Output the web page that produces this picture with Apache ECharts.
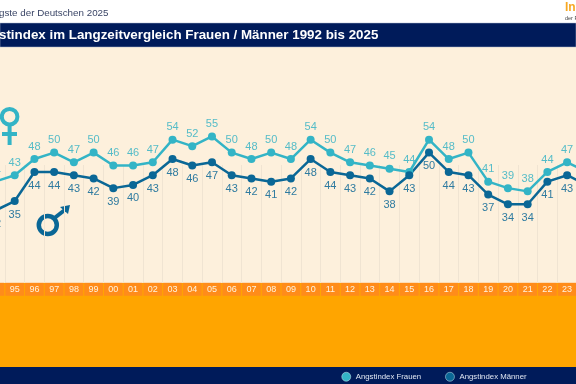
<!DOCTYPE html>
<html>
<head>
<meta charset="utf-8">
<style>html,body{margin:0;padding:0;background:#fff}#chart{width:576px;height:384px}</style>
<script src="https://cdn.jsdelivr.net/npm/echarts@6/dist/echarts.min.js"></script>
</head>
<body>
<div id="chart"></div>
<script>
// Ausschnitt 1994 bis 2024, der Rest liegt im Original ausserhalb des Bildes
var years = ['94','95','96','97','98','99','00','01','02','03','04','05','06','07','08','09','10','11','12','13','14','15','16','17','18','19','20','21','22','23','24'];
var frauen = [41,43,48,50,47,50,46,46,47,54,52,55,50,48,50,48,54,50,47,46,45,44,54,48,50,41,39,38,44,47,44];
var maenner = [32,35,44,44,43,42,39,40,43,48,46,47,43,42,41,42,48,44,43,42,38,43,50,44,43,37,34,34,41,43,40];

var navy = '#001b5a';
var colorF = '#33b4c6';
var colorM = '#0a6796';
var font = '"Liberation Sans", Arial, sans-serif';

var myChart = echarts.init(document.getElementById('chart'), null, {renderer: 'canvas'});

var makeSeries = function(name, values, color, labelColor, pos, dist) {
	return {
		name: name,
		type: 'line',
		data: values,
		symbol: 'circle',
		symbolSize: 8,
		lineStyle: {color: color, width: 2.5},
		itemStyle: {color: color},
		label: {show: true, position: pos, distance: dist, color: labelColor, fontSize: 11, fontFamily: font},
		clip: false,
		silent: true,
		animation: false
	};
};

var option = {
	animation: false,
	title: [
		{text: 'Die Ängste der Deutschen 2025', left: -35.4, top: 3, textStyle: {color: '#3a4566', fontSize: 9.8, fontWeight: 'normal', fontFamily: font}},
		{text: 'Angstindex im Langzeitvergleich Frauen / Männer 1992 bis 2025', left: -32, top: 23.4, textStyle: {color: '#fff', fontSize: 13.36, fontWeight: 'bold', fontFamily: font}},
		{text: 'Infocenter', left: 560, top: -3, textStyle: {color: '#f7a823', fontSize: 12, fontWeight: 'bold', fontFamily: font}},
		{text: 'der R+V Versicherung', left: 560, top: 10, textStyle: {color: '#444', fontSize: 5.5, fontWeight: 'normal', fontFamily: font}}
	],
	legend: {
		left: 336.5,
		top: 367,
		itemWidth: 9,
		itemHeight: 9,
		itemGap: 24,
		icon: 'circle',
		textStyle: {color: '#dfe6f2', fontSize: 7.8, fontFamily: font},
		itemStyle: {borderColor: '#cfe6ee', borderWidth: 0.5},
		data: ['Angstindex Frauen', 'Angstindex Männer']
	},
	grid: [
		{left: -14.9, width: 611.6, top: 55.7, height: 226.1, outerBoundsMode: 'none'},
		{left: -14.9, width: 611.6, top: 165, height: 118, outerBoundsMode: 'none'}
	],
	xAxis: [
		{
			type: 'category', gridIndex: 0, data: years,
			axisLine: {show: false}, axisTick: {show: false},
			axisLabel: {
				interval: 0, margin: 1, color: '#fff2df', fontSize: 9, fontFamily: font,
				backgroundColor: '#ff8c1a', width: 18.7, height: 13, lineHeight: 13, align: 'center'
			}
		},
		{
			type: 'category', gridIndex: 1, data: years,
			axisLine: {show: false}, axisTick: {show: false}, axisLabel: {show: false},
			splitLine: {show: true, interval: 0, lineStyle: {color: '#f0e4d2', width: 1}}
		}
	],
	yAxis: [
		{type: 'value', gridIndex: 0, min: 10, max: 80, show: false, splitLine: {show: false}},
		{type: 'value', gridIndex: 1, show: false, splitLine: {show: false}}
	],
	graphic: [
		// Flaechen hinter dem Diagramm
		{type: 'rect', z: -10, shape: {x: 0, y: 47, width: 576, height: 236}, style: {fill: '#fdf0dc'}},
		{type: 'rect', z: -10, shape: {x: 0, y: 23, width: 576, height: 24}, style: {fill: navy, stroke: '#aab4cc', lineWidth: 0.5}},
		{type: 'rect', z: -10, shape: {x: 0, y: 283, width: 576, height: 84}, style: {fill: '#ffa500'}},
		{type: 'rect', z: -10, shape: {x: 0, y: 367, width: 576, height: 17}, style: {fill: navy}},
		// Frauen-Symbol
		{type: 'circle', shape: {cx: 9.6, cy: 116.7, r: 7.8}, style: {fill: 'none', stroke: colorF, lineWidth: 4}},
		{type: 'line', shape: {x1: 9.6, y1: 125, x2: 9.6, y2: 145}, style: {stroke: colorF, lineWidth: 4}},
		{type: 'line', shape: {x1: 2, y1: 134, x2: 17, y2: 134}, style: {stroke: colorF, lineWidth: 4}},
		// Maenner-Symbol
		{type: 'circle', shape: {cx: 47.8, cy: 225, r: 9}, style: {fill: 'none', stroke: colorM, lineWidth: 4.5}},
		{type: 'line', shape: {x1: 54.5, y1: 218, x2: 66, y2: 209}, style: {stroke: colorM, lineWidth: 4}},
		{type: 'polygon', shape: {points: [[60, 207], [70, 205], [68, 214]]}, style: {fill: colorM}}
	],
	series: [
		makeSeries('Angstindex Frauen', frauen, colorF, '#55bcc8', 'top', 3),
		makeSeries('Angstindex Männer', maenner, colorM, '#2f7ba0', 'bottom', 4)
	]
};
myChart.setOption(option);
</script>
</body>
</html>
